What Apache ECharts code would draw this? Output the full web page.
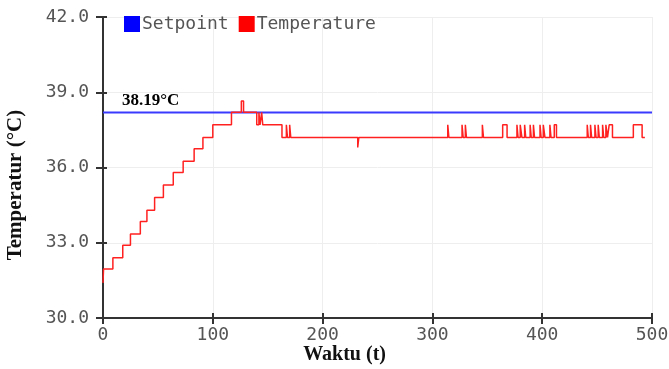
<!DOCTYPE html>
<html>
<head>
<meta charset="utf-8">
<script src="https://cdn.jsdelivr.net/npm/echarts@6/dist/echarts.min.js"></script>
<style>
  html, body {margin: 0; padding: 0; background: #fff;}
  #chart {width: 669px; height: 369px;}
</style>
</head>
<body>
<div id="chart"></div>
<script>
// axis ticks
const xTicks = [0, 100, 200, 300, 400, 500];
const yTicks = [30, 33, 36, 39, 42];

// setpoint
const setpointValue = 38.19;
const setpointTimes = [0, 500];

// temperature readings (step changes), time in t, value in °C
const tempTimes = [
  0, 0.5, 9, 18, 25, 34, 40, 47, 55, 64, 73, 83, 91, 100, 117,
  126, 128, 140, 142, 143, 144.5, 145.5, 163, 167, 168, 170, 171,
  232, 233, 314, 315, 327, 328, 330, 331, 345.5, 346.5, 364, 368,
  377, 378, 380, 381.5, 384, 385, 389, 390, 392, 393, 398, 399,
  401, 402.5, 407, 408, 411, 413, 441, 442, 444, 445, 448, 449,
  451, 452, 455, 456, 458, 459.5, 461, 464, 483, 491, 493.5
];
const tempValues = [
  31.4, 31.95, 32.4, 32.9, 33.35, 33.85, 34.3, 34.8, 35.3, 35.8, 36.25, 36.75, 37.2, 37.7, 38.2,
  38.65, 38.2, 37.7, 38.2, 37.7, 38.2, 37.7, 37.2, 37.7, 37.2, 37.7, 37.2,
  36.8, 37.2, 37.7, 37.2, 37.7, 37.2, 37.7, 37.2, 37.7, 37.2, 37.7, 37.2,
  37.7, 37.2, 37.7, 37.2, 37.7, 37.2, 37.7, 37.2, 37.7, 37.2, 37.7, 37.2,
  37.7, 37.2, 37.7, 37.2, 37.7, 37.2, 37.7, 37.2, 37.7, 37.2, 37.7, 37.2,
  37.7, 37.2, 37.7, 37.2, 37.7, 37.2, 37.7, 37.2, 37.7, 37.2, 37.2
];

const monoFont = 'DejaVu Sans Mono';
const serifFont = 'Liberation Serif';

var myChart = echarts.init(document.getElementById('chart'));
myChart.setOption({
  animation: false,
  grid: {left: 103, right: 17, top: 17, bottom: 51, containLabel: false, outerBoundsMode: 'none'},
  legend: {
    data: ['Setpoint', 'Temperature'],
    icon: 'rect',
    left: 119,
    top: 10,
    itemWidth: 16,
    itemHeight: 16,
    itemGap: 10,
    textStyle: {fontFamily: monoFont, fontSize: 18, color: '#555', padding: [0, 0, 0, -3]}
  },
  xAxis: [{
    type: 'value',
    min: xTicks[0],
    max: xTicks[xTicks.length - 1],
    interval: 100,
    axisLine: {lineStyle: {color: '#333', width: 2}},
    axisTick: {length: 6, lineStyle: {color: '#333', width: 2}},
    axisLabel: {fontFamily: monoFont, fontSize: 18, color: '#555', margin: 8},
    splitLine: {show: true, lineStyle: {color: '#eee', width: 1}}
  }, {
    type: 'value',
    position: 'bottom',
    min: xTicks[0],
    max: xTicks[xTicks.length - 1],
    interval: 100,
    axisLine: {show: false},
    axisTick: {inside: true, length: 5, lineStyle: {color: '#333', width: 2}},
    axisLabel: {show: false},
    splitLine: {show: false}
  }],
  yAxis: [{
    type: 'value',
    min: yTicks[0],
    max: yTicks[yTicks.length - 1],
    interval: 3,
    axisLine: {show: true, lineStyle: {color: '#333', width: 2}},
    axisTick: {show: true, length: 7, lineStyle: {color: '#333', width: 2}},
    axisLabel: {fontFamily: monoFont, fontSize: 18, color: '#555', margin: 14,
      formatter: v => v.toFixed(1)},
    splitLine: {show: true, lineStyle: {color: '#eee', width: 1}}
  }, {
    type: 'value',
    position: 'left',
    min: yTicks[0],
    max: yTicks[yTicks.length - 1],
    interval: 3,
    axisLine: {show: false},
    axisTick: {show: true, inside: true, length: 4, lineStyle: {color: '#333', width: 2}},
    axisLabel: {show: false},
    splitLine: {show: false}
  }],
  series: [{
    name: 'Setpoint',
    type: 'line',
    data: setpointTimes.map(t => [t, setpointValue]),
    showSymbol: false,
    symbol: 'none',
    itemStyle: {color: '#0000ff'},
    lineStyle: {color: '#3a3aff', width: 2},
    z: 3
  }, {
    name: 'Temperature',
    type: 'line',
    step: 'end',
    data: tempTimes.map((t, i) => [t, tempValues[i]]),
    showSymbol: false,
    symbol: 'none',
    itemStyle: {color: '#ff0000'},
    lineStyle: {color: '#ff2020', width: 1.5},
    z: 4
  }]
});

// labels placed through the chart's own scales
const lblPos = myChart.convertToPixel({xAxisIndex: 0, yAxisIndex: 0}, [0, setpointValue]);
const namePos = myChart.convertToPixel({xAxisIndex: 0, yAxisIndex: 0}, [220, yTicks[0]]);
const yNamePos = myChart.convertToPixel({xAxisIndex: 0, yAxisIndex: 0}, [0, 35.3]);
myChart.setOption({
  graphic: [{
    type: 'text',
    left: lblPos[0] + 19,
    top: lblPos[1] - 20,
    style: {text: setpointValue + '°C', font: 'bold 17px "Liberation Serif"', fill: '#000'}
  }, {
    type: 'text',
    x: namePos[0],
    y: namePos[1] + 37,
    style: {text: 'Waktu (t)', font: 'bold 20px "Liberation Serif"', fill: '#111',
      align: 'center', verticalAlign: 'middle'}
  }, {
    type: 'text',
    x: 16,
    y: yNamePos[1],
    rotation: Math.PI / 2,
    style: {text: 'Temperatur (°C)', font: 'bold 21px "Liberation Serif"', fill: '#111',
      align: 'center', verticalAlign: 'middle'}
  }]
});
</script>
</body>
</html>
